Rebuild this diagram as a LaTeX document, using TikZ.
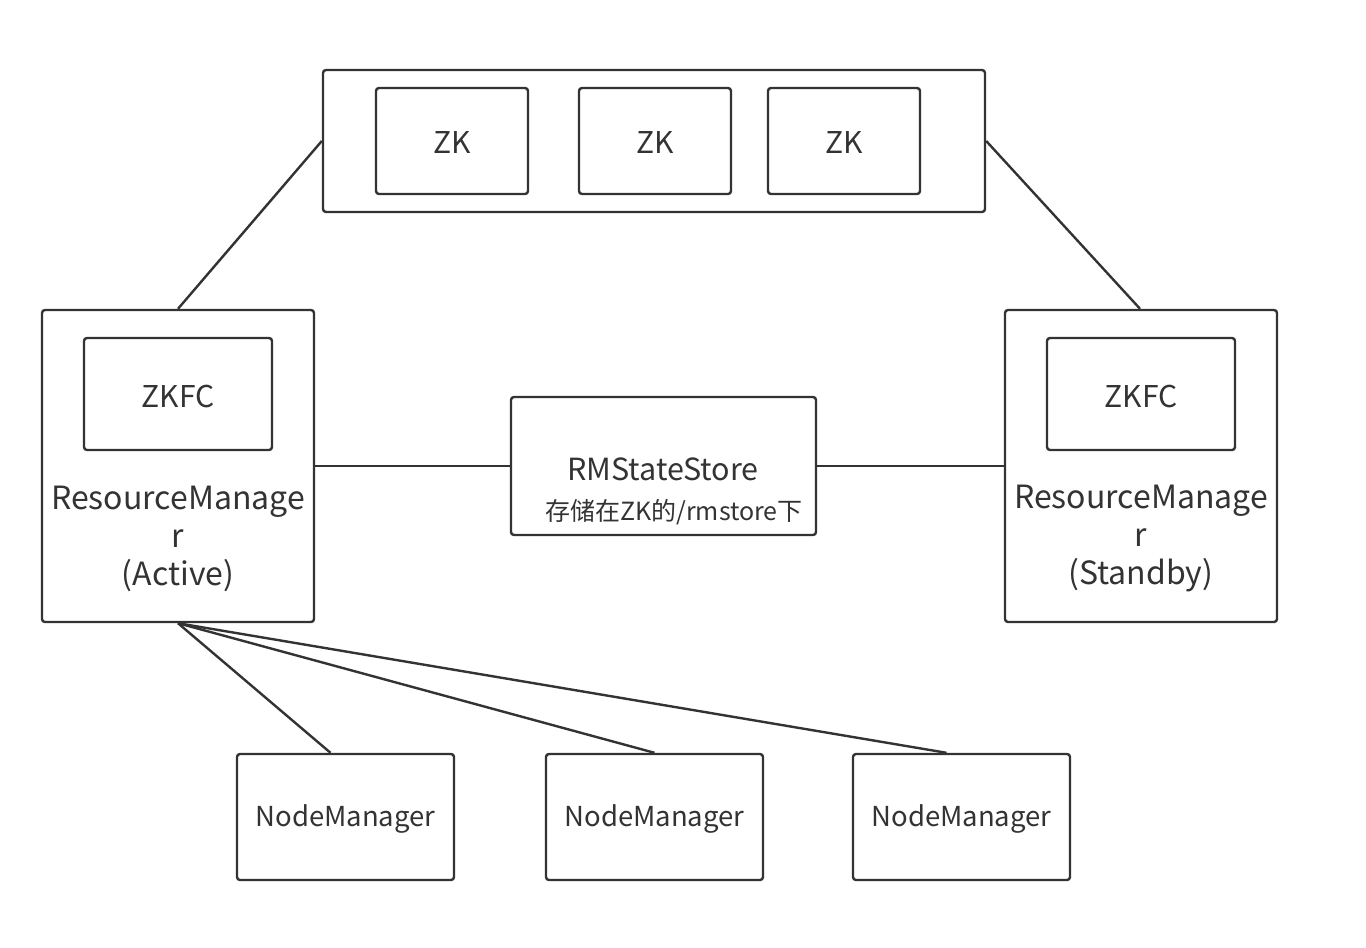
\documentclass[tikz,border=0pt]{standalone}
\usepackage{fontspec}
\setmainfont{Noto Sans CJK SC}
\begin{document}
\begin{tikzpicture}[x=1pt,y=-1pt,
  box/.style={draw=lc, line width=2.4pt, rounded corners=3pt, inner sep=0pt, fill=white},
  conn/.style={draw=lc, line width=2.4pt},
  txt/.style={text=tc, inner sep=0pt, align=center}]
\definecolor{lc}{HTML}{333333}
\definecolor{tc}{HTML}{333333}
\useasboundingbox (0,0) rectangle (1366,948);
\fill[white] (0,0) rectangle (1366,948);
% ZK group
\node[box, minimum width=662pt, minimum height=142pt] (zkg) at (654,141) {};
\node[box, minimum width=152pt, minimum height=106pt] (zk1) at (452,141) {};
\node[box, minimum width=152pt, minimum height=106pt] (zk2) at (655,141) {};
\node[box, minimum width=152pt, minimum height=106pt] (zk3) at (844,141) {};
\node[txt, font=\fontsize{30}{34}\selectfont] (zk1t) at (452,143) {ZK};
\node[txt, font=\fontsize{30}{34}\selectfont] (zk2t) at (655,143) {ZK};
\node[txt, font=\fontsize{30}{34}\selectfont] (zk3t) at (844,143) {ZK};
% RMs
\node[box, minimum width=272pt, minimum height=312pt] (rmA) at (178,466) {};
\node[box, minimum width=188pt, minimum height=112pt] (zkfcA) at (178,394) {};
\node[txt, font=\fontsize{30}{34}\selectfont] (zkfcAt) at (178,396) {ZKFC};
\node[txt, font=\fontsize{32}{38}\selectfont] (rmAt) at (178,539) {ResourceManage\\r\\(Active)};
\node[box, minimum width=272pt, minimum height=312pt] (rmS) at (1141,466) {};
\node[box, minimum width=188pt, minimum height=112pt] (zkfcS) at (1141,394) {};
\node[txt, font=\fontsize{30}{34}\selectfont] (zkfcSt) at (1141,396) {ZKFC};
\node[txt, font=\fontsize{32}{38}\selectfont] (rmSt) at (1141,539) {ResourceManage\\r\\(Standby)};
% RMStateStore
\node[box, minimum width=305pt, minimum height=138pt] (rss) at (663.5,466) {};
\node[txt, font=\fontsize{30.5}{34}\selectfont] (rsst) at (663,469) {RMStateStore};
\node[txt, font=\fontsize{25}{28}\selectfont] (rssc) at (674,512) {存储在ZK的/rmstore下};
% NodeManagers
\node[box, minimum width=217pt, minimum height=126pt] (nm1) at (345.5,817) {};
\node[box, minimum width=217pt, minimum height=126pt] (nm2) at (654.5,817) {};
\node[box, minimum width=217pt, minimum height=126pt] (nm3) at (961.5,817) {};
\node[txt, font=\fontsize{27.5}{31}\selectfont] (nm1t) at (345.5,819) {NodeManager};
\node[txt, font=\fontsize{27.5}{31}\selectfont] (nm2t) at (654.5,819) {NodeManager};
\node[txt, font=\fontsize{27.5}{31}\selectfont] (nm3t) at (961.5,819) {NodeManager};
% connectors
\draw[conn] (zkg.west) -- (rmA.north);
\draw[conn] (zkg.east) -- ([xshift=-1pt]rmS.north);
\draw[conn] (rmA.east) -- (rss.west);
\draw[conn] (rss.east) -- (rmS.west);
\draw[conn] (rmA.south) -- ([xshift=-15pt]nm1.north);
\draw[conn] (rmA.south) -- (nm2.north);
\draw[conn] (rmA.south) -- ([xshift=-15pt]nm3.north);
\end{tikzpicture}
\end{document}
